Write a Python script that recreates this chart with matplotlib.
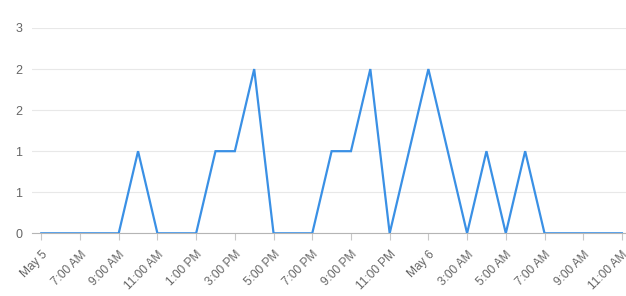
import matplotlib
matplotlib.use("Agg")
import matplotlib.pyplot as plt
from matplotlib.ticker import FixedLocator, FuncFormatter
import math

# Hourly values, May 5 5:00 AM through May 6 11:00 AM
hours = list(range(31))
values = [0, 0, 0, 0, 0, 1, 0, 0, 0, 1, 1, 2, 0, 0, 0, 1, 1, 2, 0, 1, 2, 1, 0, 1, 0, 1, 0, 0, 0, 0, 0]
tick_labels = ["May 5", "7:00 AM", "9:00 AM", "11:00 AM", "1:00 PM", "3:00 PM", "5:00 PM",
               "7:00 PM", "9:00 PM", "11:00 PM", "May 6", "3:00 AM", "5:00 AM", "7:00 AM",
               "9:00 AM", "11:00 AM"]
y_ticks = [0, 0.5, 1, 1.5, 2, 2.5]

plt.rcParams['font.family'] = ['Liberation Sans', 'DejaVu Sans']

fig = plt.figure(figsize=(6.26, 2.96), dpi=100)
ax = fig.add_axes([32/626, (296-233.3)/296, 1 - 32/626, (233.3-28)/296])

ax.plot(hours, values, color='#3a90e5', linewidth=1.6, solid_joinstyle='miter', zorder=3)

ax.set_xlim(-0.48, 30.21)
ax.set_ylim(0, 2.5)

ax.xaxis.set_major_locator(FixedLocator(hours[::2]))
ax.set_xticklabels(tick_labels, rotation=45, ha='right', va='top', rotation_mode='anchor',
                   fontsize=8.6, color='#666666')
ax.tick_params(axis='x', length=5, width=0.8, color='#c8c8c8', pad=6)

ax.yaxis.set_major_locator(FixedLocator(y_ticks))
ax.yaxis.set_major_formatter(FuncFormatter(lambda v, p: str(int(math.floor(v + 0.5)))))
ax.tick_params(axis='y', length=0, labelsize=9, labelcolor='#666666', pad=7)

ax.grid(axis='y', color='#e8e8e8', linewidth=0.8)
ax.set_axisbelow(True)

for s in ['top', 'right', 'left']:
    ax.spines[s].set_visible(False)
ax.spines['bottom'].set_color('#b5b5b5')
ax.spines['bottom'].set_linewidth(0.8)

fig.savefig('out.png', dpi=100)
